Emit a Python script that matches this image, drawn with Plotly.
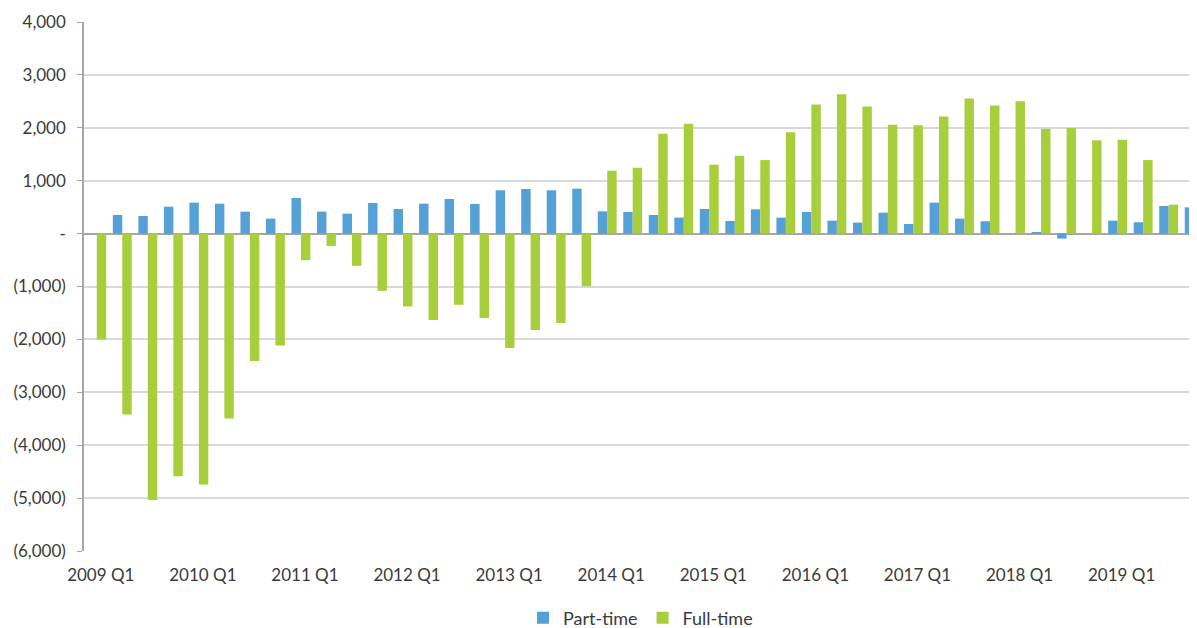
import plotly.graph_objects as go

quarters = [f"{y} Q{q}" for y in range(2009, 2020) for q in range(1, 5)]

part_time = [None, 352, 333, 509, 585, 566, 415, 283, 673, 415, 377, 579, 465, 566,
             654, 560, 818, 843, 818, 849, 421, 409, 352, 302, 465, 239, 459, 302,
             409, 245, 208, 396, 182, 585, 283, 233, 0, 25, -94, 0, 245, 214, 522, 497]

full_time = [-2000, -3421, -5038, -4585, -4742, -3497, -2409, -2113, -503, -233, -610,
             -1082, -1377, -1635, -1346, -1597, -2164, -1824, -1692, -994, 1189, 1245,
             1887, 2075, 1302, 1472, 1390, 1918, 2440, 2635, 2403, 2057, 2050, 2214,
             2553, 2421, 2503, 1981, 1994, 1767, 1774, 1390, 547, 1553]

x_ticks = [q for q in quarters if q.endswith("Q1")]
y_ticks = [4000, 3000, 2000, 1000, 0, -1000, -2000, -3000, -4000, -5000, -6000]
y_labels = ["4,000", "3,000", "2,000", "1,000", "-", "(1,000)", "(2,000)",
            "(3,000)", "(4,000)", "(5,000)", "(6,000)"]

fig = go.Figure()
fig.add_trace(go.Bar(x=quarters, y=part_time, name="Part-time",
                     marker=dict(color="#56A0D8", line=dict(width=0))))
fig.add_trace(go.Bar(x=quarters, y=full_time, name="Full-time",
                     marker=dict(color="#A8CE3B", line=dict(width=0))))

# page body has an 8px margin, so the figure is sized to fill the rest of the window
fig.update_layout(
    width=1189, height=620,
    margin=dict(l=76, r=0, t=14, b=77, autoexpand=False),
    plot_bgcolor="white", paper_bgcolor="white",
    barmode="group", bargap=0.26, bargroupgap=0,
    font=dict(family="Lato, sans-serif", size=17, color="#3a3a3a"),
    legend=dict(orientation="h", x=0.5, xanchor="center",
                yref="container", y=0.016, yanchor="middle",
                font=dict(size=18), itemwidth=30, traceorder="normal"),
    xaxis=dict(type="category", range=[-0.5, 43.11], tickvals=x_ticks, ticktext=x_ticks,
               showgrid=False, showline=False, ticks="", ticklabelstandoff=12,
               ticklabelshift=4, automargin=False),
    yaxis=dict(range=[-6000, 4000], tickvals=y_ticks, ticktext=y_labels,
               showgrid=True, gridcolor="#D9D9D9", gridwidth=1.5,
               zeroline=True, zerolinecolor="#A6A6A6", zerolinewidth=2,
               showline=True, linecolor="#A6A6A6", linewidth=1.5,
               ticks="outside", ticklen=5, tickcolor="#A6A6A6", ticklabelstandoff=8,
               automargin=False),
)

fig.write_html("out.html")
